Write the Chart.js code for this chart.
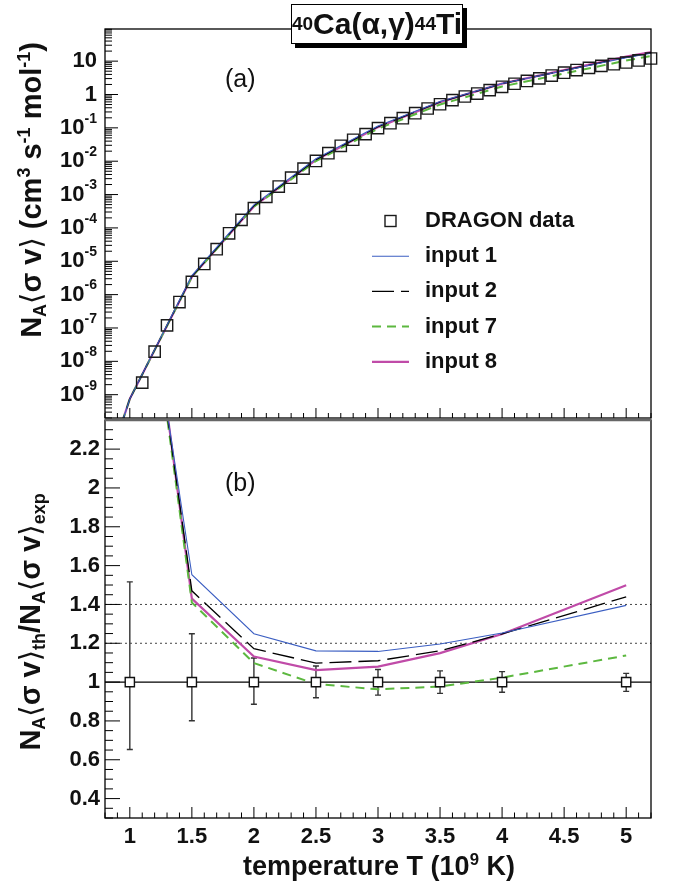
<!DOCTYPE html>
<html>
<head>
<meta charset="utf-8">
<script src="https://cdn.jsdelivr.net/npm/chart.js@4.4.1/dist/chart.umd.min.js"></script>
<style>
  body { margin: 0; background: #fff; width: 677px; height: 886px; overflow: hidden; position: relative;
         font-family: "Liberation Sans", Arial, Helvetica, sans-serif; color: #111; }
  canvas { position: absolute; left: 0; top: 0; }
  .txt { position: absolute; white-space: nowrap; font-weight: bold; line-height: 1; }
  .rot { transform: translate(-50%, -50%) rotate(-90deg); }
  .ctr { transform: translate(-50%, -50%); }
  .sup { font-size: 0.62em; vertical-align: 0.62em; }
  .sub { font-size: 0.62em; vertical-align: -0.28em; }
  .br { font-family: "DejaVu Sans", sans-serif; font-weight: normal; }
  #title { position: absolute; left: 291px; top: 4px; width: 172px; height: 40px; box-sizing: border-box;
           border: 1.5px solid #000; background: #fff; box-shadow: 4px 4px 0 #000;
           display: flex; align-items: center; justify-content: center;
           font-weight: bold; font-size: 30px; white-space: nowrap; }
  #title .sup { font-size: 19px; vertical-align: 11px; }
  .panel { position: absolute; font-size: 25px; line-height: 25px; }
</style>
</head>
<body>
<canvas id="top" width="677" height="886"></canvas>
<canvas id="bot" width="677" height="886"></canvas>

<div id="title"><span class="sup">40</span>Ca(α,γ)<span class="sup">44</span>Ti</div>
<div class="panel" style="left:225px; top:66px;">(a)</div>
<div class="panel" style="left:225px; top:470px;">(b)</div>

<div class="txt rot" style="left:32px; top:190px; font-size:29px;">N<span class="sub">A</span><span class="br">⟨</span>σ v<span class="br">⟩</span> (cm<span class="sup">3</span> s<span class="sup">-1</span> mol<span class="sup">-1</span>)</div>
<div class="txt rot" style="left:32px; top:622px; font-size:29px;">N<span class="sub">A</span><span class="br">⟨</span>σ v<span class="br">⟩</span><span class="sub">th</span>/N<span class="sub">A</span><span class="br">⟨</span>σ v<span class="br">⟩</span><span class="sub">exp</span></div>
<div class="txt ctr" style="left:379px; top:866px; font-size:27px;">temperature T (10<span class="sup">9</span> K)</div>

<script>
// ---- panel (a): reaction rate ----
// DRAGON experimental rate
const dragonT = [1.1, 1.2, 1.3, 1.4, 1.5, 1.6, 1.7, 1.8, 1.9, 2.0, 2.1, 2.2, 2.3, 2.4, 2.5, 2.6, 2.7, 2.8, 2.9, 3.0,
                 3.1, 3.2, 3.3, 3.4, 3.5, 3.6, 3.7, 3.8, 3.9, 4.0, 4.1, 4.2, 4.3, 4.4, 4.5, 4.6, 4.7, 4.8, 4.9, 5.0, 5.1, 5.2];
const dragonRate = [2.3e-9, 1.95e-8, 1.2e-7, 6.0e-7, 2.4e-6, 8.3e-6, 2.3e-5, 6.9e-5, 1.74e-4, 3.9e-4,
                    8.5e-4, 1.74e-3, 3.2e-3, 6.0e-3, 1.02e-2, 1.74e-2, 2.9e-2, 4.4e-2, 6.5e-2, 9.8e-2,
                    0.138, 0.195, 0.275, 0.38, 0.51, 0.68, 0.87, 1.07, 1.35, 1.70,
                    2.1, 2.55, 3.05, 3.7, 4.5, 5.4, 6.3, 7.2, 8.1, 9.1, 10.5, 12.0];

// model rates on the temperature grid
const gridT = [0.9, 1.0, 1.5, 2.0, 2.5, 3.0, 3.5, 4.0, 5.0, 6.0];
const rate1 = [5.6e-11, 7.5e-10, 3.7e-6, 4.9e-4, 1.19e-2, 0.113, 0.614, 2.13, 12.7, 60];
const rate2 = [5.6e-11, 7.5e-10, 3.5e-6, 4.6e-4, 1.12e-2, 0.108, 0.596, 2.12, 13.1, 63];
const rate7 = [5.6e-11, 7.5e-10, 3.4e-6, 4.3e-4, 1.01e-2, 0.094, 0.50, 1.74, 10.4, 52];
const rate8 = [5.6e-11, 7.5e-10, 3.4e-6, 4.4e-4, 1.09e-2, 0.105, 0.59, 2.12, 13.7, 66];

// ---- panel (b): ratio theory / experiment ----
const ratioT = [1.0, 1.5, 2.0, 2.5, 3.0, 3.5, 4.0, 5.0];
const ratio1 = [3.65, 1.553, 1.249, 1.161, 1.158, 1.196, 1.253, 1.395];
const ratio2 = [3.75, 1.47, 1.172, 1.098, 1.11, 1.161, 1.248, 1.439];
const ratio7 = [3.80, 1.41, 1.098, 0.99, 0.963, 0.977, 1.023, 1.137];
const ratio8 = [3.85, 1.43, 1.132, 1.062, 1.08, 1.149, 1.248, 1.499];
const expRatio = [1, 1, 1, 1, 1, 1, 1, 1];
const expHi = [1.516, 1.249, 1.124, 1.083, 1.065, 1.058, 1.054, 1.045];
const expLo = [0.653, 0.801, 0.886, 0.919, 0.933, 0.942, 0.948, 0.952];
const dottedLevels = [1.2, 1.4];

// axis ticks
const xTicks = [1, 1.5, 2, 2.5, 3, 3.5, 4, 4.5, 5];
const xTickLabels = ['1', '1.5', '2', '2.5', '3', '3.5', '4', '4.5', '5'];
const rateDecades = [-9, -8, -7, -6, -5, -4, -3, -2, -1, 0, 1];
const ratioTicks = [0.4, 0.6, 0.8, 1.0, 1.2, 1.4, 1.6, 1.8, 2.0, 2.2];
const ratioTickLabels = ['0.4', '0.6', '0.8', '1', '1.2', '1.4', '1.6', '1.8', '2', '2.2'];

const legendLabels = ['DRAGON data', 'input 1', 'input 2', 'input 7', 'input 8'];

const pts = (xs, ys) => xs.map((v, i) => ({ x: v, y: ys[i] }));

const BLUE = '#3b5ec2', GREEN = '#5cb83f', MAGENTA = '#c04ba8';
const styles = [
  { borderColor: BLUE, borderWidth: 1.1 },
  { borderColor: '#000', borderWidth: 1.3, borderDash: [22, 7] },
  { borderColor: GREEN, borderWidth: 2, borderDash: [9, 6] },
  { borderColor: MAGENTA, borderWidth: 2.2 }
];
const lineDs = (data, s) => Object.assign({ data, pointRadius: 0, tension: 0, fill: false }, s);

// ROOT-like frame: inward ticks on bottom and left, labels outside
const rootFrame = {
  id: 'rootFrame',
  afterDraw(chart, args, o) {
    const { ctx, chartArea: a } = chart;
    const xs = chart.scales.x, ys = chart.scales.y;
    ctx.save();
    ctx.strokeStyle = '#000';
    ctx.lineWidth = 1;
    ctx.beginPath();
    for (let i = 8; i <= 52; i++) {
      const p = xs.getPixelForValue(i / 10);
      const len = i % 5 === 0 ? o.xMajor : o.xMinor;
      ctx.moveTo(p, a.bottom); ctx.lineTo(p, a.bottom - len);
    }
    if (o.log) {
      for (let e = -10; e <= 1; e++) {
        for (let m = 1; m <= 9; m++) {
          const v = m * Math.pow(10, e);
          if (v < ys.min || v > ys.max) continue;
          const p = ys.getPixelForValue(v);
          ctx.moveTo(a.left, p); ctx.lineTo(a.left + (m === 1 ? o.yMajor : o.yMinor), p);
        }
      }
    } else {
      for (let i = 6; i <= 47; i++) {
        const p = ys.getPixelForValue(i * 0.05);
        ctx.moveTo(a.left, p); ctx.lineTo(a.left + (i % 4 === 0 ? o.yMajor : o.yMinor), p);
      }
    }
    ctx.stroke();
    ctx.lineWidth = 1.3;
    ctx.strokeRect(a.left, a.top, a.right - a.left, a.bottom - a.top);
    if (o.topBand) {
      ctx.strokeStyle = '#666'; ctx.lineWidth = 2.5;
      ctx.beginPath(); ctx.moveTo(a.left, a.top); ctx.lineTo(a.right, a.top); ctx.stroke();
    }

    ctx.fillStyle = '#111';
    ctx.textBaseline = 'middle';
    const big = 'bold 22px "Liberation Sans", Arial, sans-serif';
    const small = 'bold 14px "Liberation Sans", Arial, sans-serif';
    const xr = a.left - 8;
    if (o.log) {
      ctx.textAlign = 'right';
      rateDecades.forEach(e => {
        const p = ys.getPixelForValue(Math.pow(10, e));
        if (e === 0 || e === 1) { ctx.font = big; ctx.fillText(e === 0 ? '1' : '10', xr, p); return; }
        ctx.font = small;
        const s = String(e);
        const w = ctx.measureText(s).width;
        ctx.fillText(s, xr, p - 9);
        ctx.font = big;
        ctx.fillText('10', xr - w, p);
      });
    } else {
      ctx.textAlign = 'right';
      ctx.font = big;
      ratioTicks.forEach((v, i) => ctx.fillText(ratioTickLabels[i], a.left - 5, ys.getPixelForValue(v)));
      ctx.textAlign = 'center';
      ctx.textBaseline = 'top';
      xTicks.forEach((v, i) => ctx.fillText(xTickLabels[i], xs.getPixelForValue(v), a.bottom + 8));
    }
    ctx.restore();
  }
};

// error bars for the experimental ratio
const errorBars = {
  id: 'errorBars',
  beforeDatasetsDraw(chart) {
    if (chart.canvas.id !== 'bot') return;
    const { ctx } = chart;
    const xs = chart.scales.x, ys = chart.scales.y;
    ctx.save();
    ctx.strokeStyle = '#333';
    ctx.lineWidth = 1.4;
    ctx.beginPath();
    ratioT.forEach((t, i) => {
      const px = xs.getPixelForValue(t);
      const hi = ys.getPixelForValue(expHi[i]), lo = ys.getPixelForValue(expLo[i]);
      ctx.moveTo(px, hi); ctx.lineTo(px, lo);
      ctx.moveTo(px - 3, hi); ctx.lineTo(px + 3, hi);
      ctx.moveTo(px - 3, lo); ctx.lineTo(px + 3, lo);
    });
    ctx.stroke();
    ctx.restore();
  }
};

// legend inside panel (a)
const rateLegend = {
  id: 'rateLegend',
  afterDraw(chart) {
    if (chart.canvas.id !== 'top') return;
    const { ctx } = chart;
    ctx.save();
    ctx.font = 'bold 22px "Liberation Sans", Arial, sans-serif';
    ctx.fillStyle = '#111';
    ctx.textBaseline = 'middle';
    ctx.textAlign = 'left';
    legendLabels.forEach((lab, i) => {
      const yy = 221 + i * 35.2;
      if (i === 0) {
        ctx.strokeStyle = '#1a1a1a'; ctx.lineWidth = 1.4; ctx.setLineDash([]);
        ctx.strokeRect(390.5 - 5.5, yy - 5.5, 11, 11);
      } else {
        const s = chart.data.datasets[i].borderDash || [];
        ctx.setLineDash(s);
        ctx.strokeStyle = chart.data.datasets[i].borderColor;
        ctx.lineWidth = chart.data.datasets[i].borderWidth;
        ctx.beginPath(); ctx.moveTo(372, yy); ctx.lineTo(409, yy); ctx.stroke();
      }
      ctx.setLineDash([]);
      ctx.fillText(lab, 425, yy);
    });
    ctx.restore();
  }
};

Chart.register(rootFrame, errorBars, rateLegend);

const baseOpts = (pad, yScale, frame) => ({
  responsive: false,
  animation: false,
  devicePixelRatio: 1,
  layout: { padding: pad },
  scales: {
    x: { type: 'linear', min: 0.8, max: 5.2, display: false },
    y: Object.assign({ display: false }, yScale)
  },
  plugins: { legend: { display: false }, tooltip: { enabled: false }, rootFrame: frame }
});

new Chart(document.getElementById('top'), {
  type: 'line',
  data: {
    datasets: [
      { data: pts(dragonT, dragonRate), showLine: false, pointStyle: 'rect', pointRadius: 8,
        borderColor: '#1a1a1a', borderWidth: 1.4, backgroundColor: 'rgba(0,0,0,0)', clip: false },
      lineDs(pts(gridT, rate1), styles[0]),
      lineDs(pts(gridT, rate2), styles[1]),
      lineDs(pts(gridT, rate7), styles[2]),
      lineDs(pts(gridT, rate8), styles[3])
    ]
  },
  options: baseOpts({ left: 105, right: 26, top: 29, bottom: 468 },
    { type: 'logarithmic', min: 2e-10, max: 92 },
    { log: true, xMajor: 10, xMinor: 5, yMajor: 13, yMinor: 7 })
});

const span = [0.8, 5.2];
new Chart(document.getElementById('bot'), {
  type: 'line',
  data: {
    datasets: [
      { data: pts(ratioT, expRatio), showLine: false, pointStyle: 'rect', pointRadius: 6.5,
        borderColor: '#111', borderWidth: 1.4, backgroundColor: '#fff', clip: false },
      lineDs(pts(ratioT, ratio1), styles[0]),
      lineDs(pts(ratioT, ratio2), styles[1]),
      lineDs(pts(ratioT, ratio7), styles[2]),
      lineDs(pts(ratioT, ratio8), styles[3]),
      lineDs(pts(span, [1, 1]), { borderColor: '#000', borderWidth: 1.3 }),
      ...dottedLevels.map(l => lineDs(pts(span, [l, l]), { borderColor: '#444', borderWidth: 1, borderDash: [2, 3] }))
    ]
  },
  options: baseOpts({ left: 105, right: 26, top: 420, bottom: 68 },
    { type: 'linear', min: 0.3, max: 2.35 },
    { log: false, xMajor: 11, xMinor: 5.5, yMajor: 15, yMinor: 8, topBand: true })
});
</script>
</body>
</html>
